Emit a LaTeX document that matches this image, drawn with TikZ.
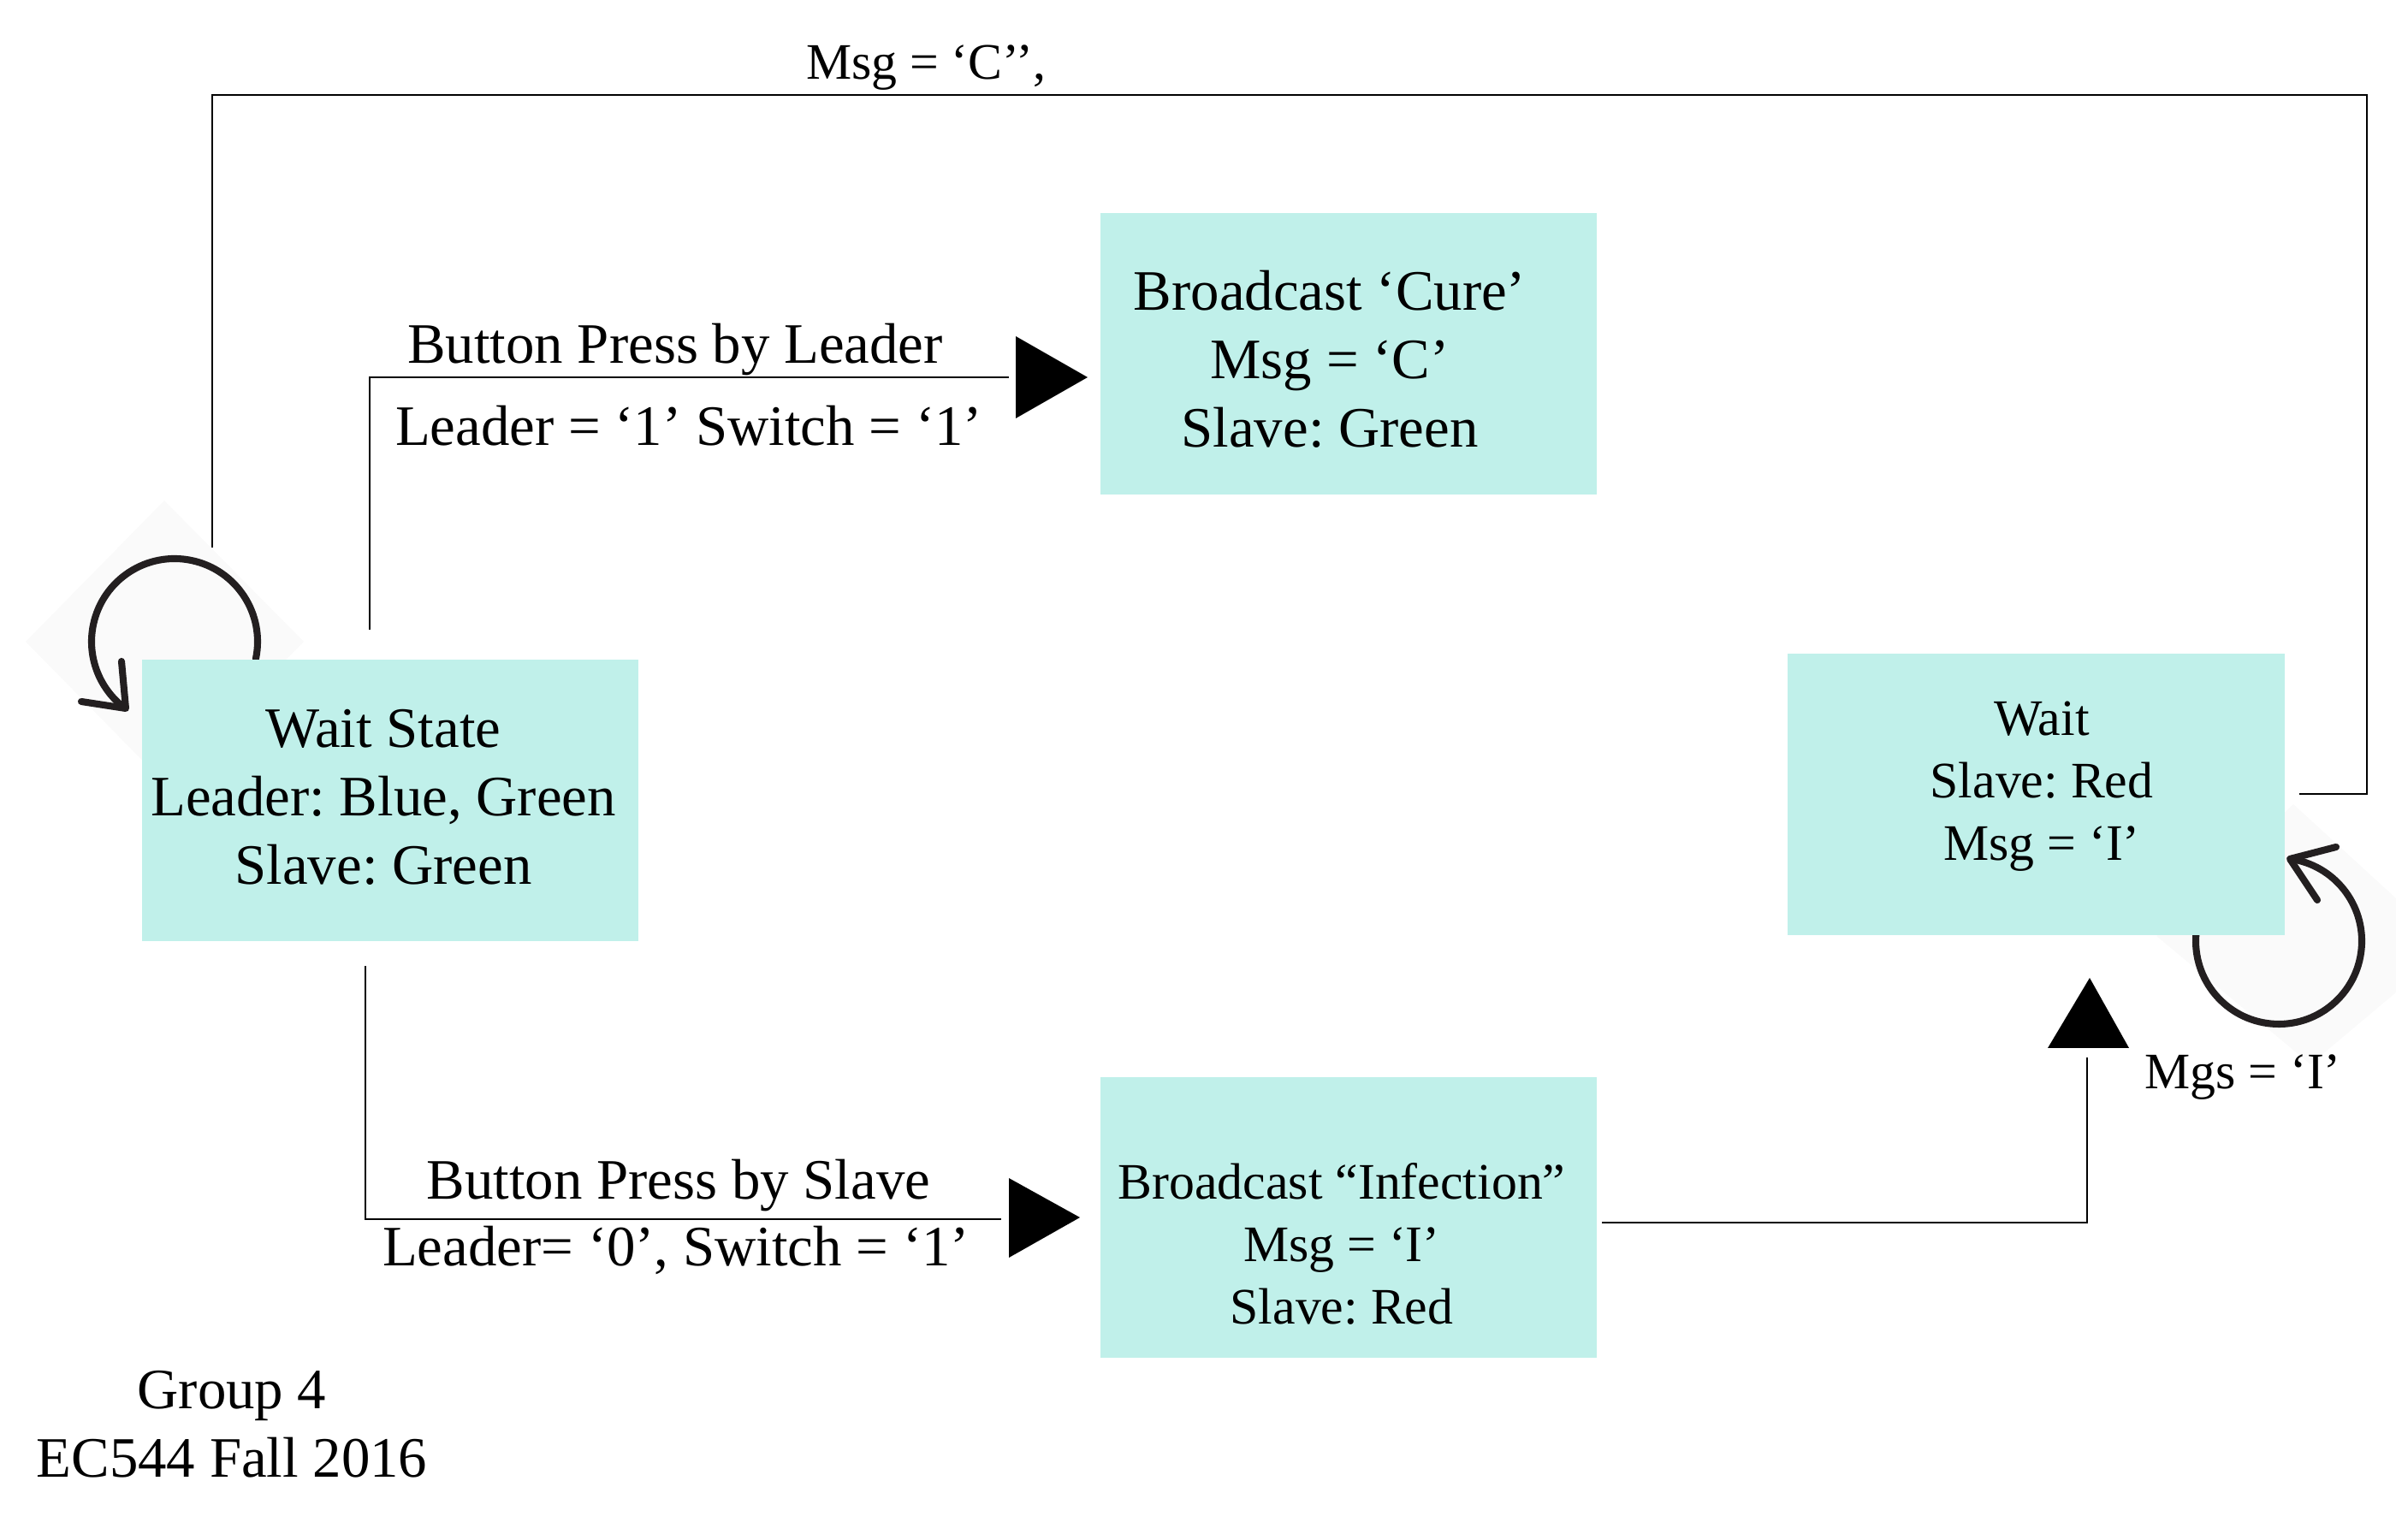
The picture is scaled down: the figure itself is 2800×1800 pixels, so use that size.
\documentclass[tikz,border=0pt]{standalone}
\usepackage{fontspec}
\setmainfont{Liberation Serif}
\definecolor{boxfill}{RGB}{192,240,234}
\definecolor{loopink}{RGB}{35,31,32}
\frenchspacing
\begin{document}
\begin{tikzpicture}[x=0.01cm,y=0.01cm,
  state/.style={fill=boxfill, draw=none, minimum width=5.8cm, minimum height=3.28cm, inner sep=0pt},
  wire/.style={draw=black, line width=0.6pt},
  loopline/.style={draw=loopink, line width=2.3pt, line cap=round, line join=round},
  head/.style={fill=black},
  txt/.style={align=center, inner sep=0pt, font=\fontsize{19}{22.8}\selectfont},
  smalltxt/.style={align=center, inner sep=0pt, font=\fontsize{17}{20.8}\selectfont},
  lbl/.style={inner sep=0pt, anchor=base, font=\fontsize{19}{22.8}\selectfont},
  smalllbl/.style={inner sep=0pt, anchor=base, font=\fontsize{17}{20.8}\selectfont},
  hatch/.style={fill=black!2, draw=none}]
\useasboundingbox (0,0) rectangle (2800,1800);

% faint hatched backgrounds of the loop icons
\fill[hatch] (30,1050) -- (192,1215) -- (355,1050) -- (192,885) -- cycle;
\fill[hatch] (2520,706) -- (2680,860) -- (2800,750) -- (2800,640) -- (2700,556) -- cycle;

% self loops
\coordinate (lc) at (204,1050);
\draw[loopline] (lc) ++(-12:97) arc[start angle=-12, end angle=233, radius=97];
\coordinate (lt) at (147,972);
\coordinate (lb1) at (142,1027);
\coordinate (lb2) at (95,980);
\draw[loopline] (lb1) -- (lt) -- (lb2);

\coordinate (rc) at (2663,700);
\draw[loopline] (rc) ++(175:97) arc[start angle=175, end angle=442, radius=97];
\coordinate (rt) at (2676,796);
\coordinate (rb1) at (2730,810);
\coordinate (rb2) at (2708,748);
\draw[loopline] (rb1) -- (rt) -- (rb2);

% states
\node[state] (ws) at (456,864.5) {};
\node[state] (cure) at (1576,1386.5) {};
\node[state] (inf) at (1576,377) {};
\node[state] (wr) at (2379.5,871.5) {};

\node[txt] (wst) at (448,868) {Wait State\\Leader: Blue, Green\\Slave: Green};
\node[txt] (curet) at (1554,1380) {Broadcast ‘Cure’\\Msg = ‘C’\\Slave: Green};
\node[smalltxt] (inft) at (1568,346) {Broadcast “Infection”\\Msg = ‘I’\\Slave: Red};
\node[smalltxt] (wrt) at (2386,881) {Wait\\Slave: Red\\Msg = ‘I’};

% transition labels
\node[smalllbl] (msgc) at (1082,1707) {Msg = ‘C’’,};
\node[lbl] (bpl) at (789,1375) {Button Press by Leader};
\node[lbl] (ls1) at (805,1279) {Leader = ‘1’ Switch = ‘1’};
\node[lbl] (bps) at (793,398) {Button Press by Slave};
\node[lbl] (l0s1) at (790,320) {Leader= ‘0’, Switch = ‘1’};
\node[smalllbl] (mgs) at (2621,527) {Mgs = ‘I’};
\node[txt] (grp) at (271,135) {Group 4\\EC544 Fall 2016};

% connectors
\coordinate (u0) at (432,1064);
\coordinate (u1) at (432,1359);
\coordinate (u2) at (1179,1359);
\draw[wire] (u0) -- (u1) -- (u2);
\fill[head] (1271,1359) -- (1187,1407) -- (1187,1311) -- cycle;

\coordinate (d0) at (427,671);
\coordinate (d1) at (427,375);
\coordinate (d2) at (1170,375);
\draw[wire] (d0) -- (d1) -- (d2);
\fill[head] (1262,377) -- (1179,423) -- (1179,330) -- cycle;

\coordinate (i0) at (1872,371);
\coordinate (i1) at (2439,371);
\coordinate (i2) at (2439,564);
\draw[wire] (i0) -- (i1) -- (i2);
\fill[head] (2442,657) -- (2393,575) -- (2488,575) -- cycle;

\coordinate (t0) at (2687,872);
\coordinate (t1) at (2766,872);
\coordinate (t2) at (2766,1689);
\coordinate (t3) at (248,1689);
\coordinate (t4) at (248,1160);
\draw[wire] (t0) -- (t1) -- (t2) -- (t3) -- (t4);
\end{tikzpicture}
\end{document}
